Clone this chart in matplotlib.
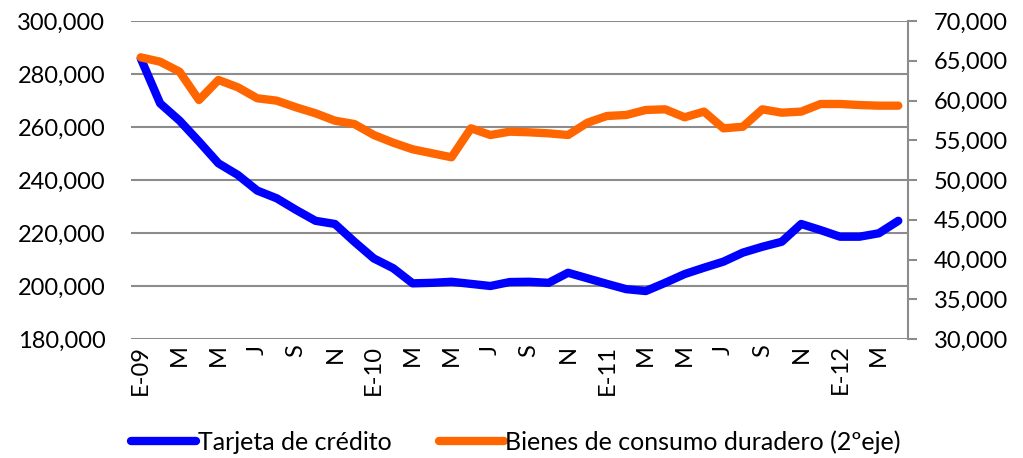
import matplotlib
matplotlib.use("Agg")
import matplotlib.pyplot as plt

plt.rcParams['font.family'] = ['Lato', 'DejaVu Sans']

# Months Jan 2009 - Apr 2012 (label shown every second month)
month_labels = ['E-09', 'F', 'M', 'A', 'M', 'J', 'J', 'A', 'S', 'O', 'N', 'D',
                'E-10', 'F', 'M', 'A', 'M', 'J', 'J', 'A', 'S', 'O', 'N', 'D',
                'E-11', 'F', 'M', 'A', 'M', 'J', 'J', 'A', 'S', 'O', 'N', 'D',
                'E-12', 'F', 'M', 'A']

tarjeta_credito = [285.9, 268.9, 262.4, 254.5, 246.3, 241.9, 236.0, 233.1, 228.7, 224.6,
                   223.4, 216.7, 210.4, 206.7, 201.0, 201.2, 201.6, 200.8, 200.0, 201.5,
                   201.6, 201.2, 205.0, 202.9, 200.8, 198.8, 198.1, 201.2, 204.5, 206.9,
                   209.2, 212.6, 214.8, 216.7, 223.4, 221.1, 218.6, 218.6, 219.9, 224.6]
tarjeta_credito = [v * 1000 for v in tarjeta_credito]

bienes_duraderos = [65.43, 64.88, 63.62, 60.06, 62.58, 61.66, 60.28, 59.98, 59.14, 58.39,
                    57.46, 57.04, 55.66, 54.69, 53.86, 53.36, 52.86, 56.50, 55.66, 56.08,
                    56.00, 55.87, 55.66, 57.21, 58.05, 58.18, 58.81, 58.89, 57.89, 58.60,
                    56.50, 56.70, 58.89, 58.47, 58.60, 59.56, 59.56, 59.43, 59.35, 59.35]
bienes_duraderos = [v * 1000 for v in bienes_duraderos]

left_ticks = [180000, 200000, 220000, 240000, 260000, 280000, 300000]
right_ticks = [30000, 35000, 40000, 45000, 50000, 55000, 60000, 65000, 70000]

fig = plt.figure(figsize=(10.23, 4.58), dpi=100)
ax = fig.add_axes([131/1023, 1-339/458, (908-131)/1023, (339-21)/458])
ax2 = ax.twinx()

x = list(range(len(month_labels)))
grid_col = '#8c8c8c'
fs = 17

l1, = ax.plot(x, tarjeta_credito, color='#0000FF', lw=6, solid_capstyle='round',
              solid_joinstyle='round', label='Tarjeta de crédito', zorder=3)
l2, = ax2.plot(x, bienes_duraderos, color='#FF6600', lw=6, solid_capstyle='round',
               solid_joinstyle='round', label='Bienes de consumo duradero (2ºeje)', zorder=3)

ax.set_xlim(-0.5, len(x) - 0.5)
ax.set_ylim(180000, 300000)
ax2.set_ylim(30000, 70000)

ax.set_yticks(left_ticks)
ax.set_yticklabels([f'{v:,}' for v in left_ticks], fontsize=fs)
ax2.set_yticks(right_ticks)
ax2.set_yticklabels([f'{v:,}' for v in right_ticks], fontsize=fs)

ax.set_xticks(x[::2])
ax.set_xticklabels(month_labels[::2], rotation=90, fontsize=fs)

ax.grid(axis='y', color=grid_col, lw=1.5)
ax.set_axisbelow(True)
for s in ['top', 'left', 'bottom', 'right']:
    ax.spines[s].set_visible(False)
for s in ['top', 'left', 'bottom']:
    ax2.spines[s].set_visible(False)
ax2.spines['right'].set_color(grid_col)
ax2.spines['right'].set_linewidth(1.5)

ax.tick_params(axis='y', length=0, pad=18.5)
ax.tick_params(axis='x', length=0, pad=4)
ax2.tick_params(axis='y', length=6.5, width=1.5, color=grid_col, pad=12)

fig.legend(handles=[l1, l2], loc='center', bbox_to_anchor=(516/1023, 1-442/458),
           ncol=2, frameon=False, fontsize=18, handlelength=2.6, handletextpad=0.05,
           columnspacing=1.9)

fig.savefig('out.png', dpi=100)
